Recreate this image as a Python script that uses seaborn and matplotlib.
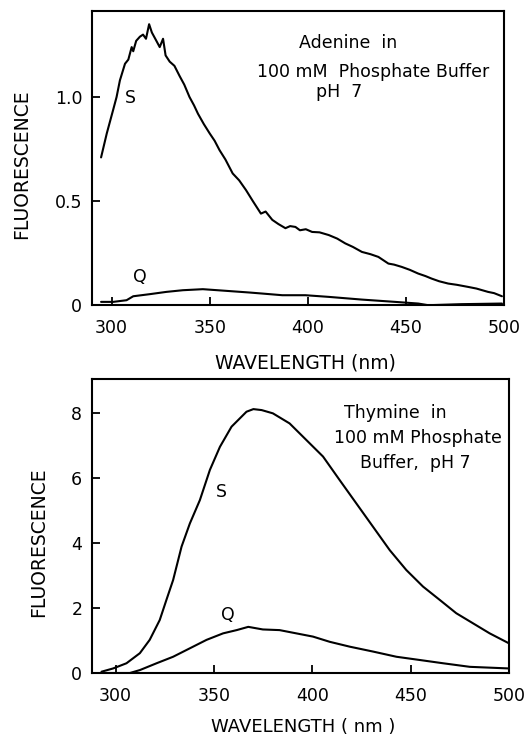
import pandas as pd
import matplotlib
matplotlib.use("Agg")
import matplotlib.pyplot as plt
import seaborn as sns

# === Datos ===
# Adenina, curva S
ade_s_wl = [294.6, 297.5, 300.8, 302.5, 304.2, 306.8, 308.5, 310.2, 311.0, 312.5, 314.4, 316.0,
            317.5, 319.1, 320.5, 322.8, 324.5, 326.2, 327.5, 329.6, 332.0, 334.7, 337.0,
            339.7, 342.0, 344.0, 347.0, 350.0, 352.5, 355.0, 358.0, 361.7, 365.0, 368.5,
            372.0, 376.1, 378.5, 381.9, 385.0, 388.6, 391.0, 393.7, 396.0, 399.0, 402.2,
            406.0, 410.7, 415.0, 419.1, 423.0, 427.6, 432.0, 436.0, 441.1, 444.0, 447.9,
            452.0, 456.3, 460.0, 463.1, 467.0, 471.6, 476.0, 481.7, 486.0, 491.9, 495.0, 499.0]
ade_s_f = [0.71, 0.825, 0.94, 1.00, 1.08, 1.16, 1.18, 1.24, 1.22, 1.27, 1.29, 1.30,
           1.28, 1.35, 1.31, 1.27, 1.24, 1.28, 1.20, 1.17, 1.15, 1.10, 1.06,
           1.00, 0.96, 0.92, 0.87, 0.825, 0.79, 0.745, 0.70, 0.633, 0.60, 0.553,
           0.50, 0.44, 0.45, 0.41, 0.39, 0.37, 0.38, 0.376, 0.36, 0.365, 0.352,
           0.35, 0.337, 0.32, 0.297, 0.28, 0.256, 0.245, 0.232, 0.20, 0.195, 0.184,
           0.17, 0.152, 0.14, 0.128, 0.115, 0.104, 0.098, 0.088, 0.08, 0.064, 0.058, 0.043]

# Adenina, curva Q
ade_q_wl = [294.6, 300.8, 307.6, 311.0, 319.4, 327.9, 336.3, 346.5, 358.4, 370.2, 376.8,
            387.0, 398.8, 410.7, 427.6, 444.5, 456.3, 461.4, 478.3, 499.0]
ade_q_f = [0.016, 0.016, 0.024, 0.043, 0.053, 0.064, 0.072, 0.077, 0.069, 0.061, 0.056,
           0.048, 0.048, 0.040, 0.027, 0.016, 0.008, 0.0, 0.005, 0.008]

# Timina, curva S
thy_s_wl = [292.8, 298.7, 305.5, 312.3, 317.3, 322.4, 325.8, 329.2, 333.5, 337.7, 342.8,
            347.9, 353.0, 358.9, 366.5, 370.0, 374.2, 379.9, 388.4, 396.9, 405.4, 413.8,
            422.3, 430.8, 439.3, 447.7, 456.2, 464.7, 473.1, 481.6, 490.1, 500.0]
thy_s_f = [0.04, 0.14, 0.30, 0.61, 1.02, 1.63, 2.25, 2.86, 3.89, 4.60, 5.32,
           6.25, 6.96, 7.58, 8.04, 8.12, 8.09, 7.99, 7.68, 7.17, 6.66, 5.94,
           5.22, 4.50, 3.78, 3.17, 2.66, 2.25, 1.84, 1.53, 1.22, 0.91]

# Timina, curva Q
thy_q_wl = [293.6, 307.2, 312.3, 320.8, 329.2, 337.7, 346.2, 354.6, 361.5, 367.4, 374.8,
            383.3, 391.8, 400.3, 408.8, 419.0, 430.8, 442.7, 454.6, 466.4, 480.0, 500.0]
thy_q_f = [0.0, 0.0, 0.09, 0.30, 0.50, 0.76, 1.02, 1.22, 1.32, 1.42, 1.34,
           1.32, 1.22, 1.12, 0.96, 0.81, 0.66, 0.50, 0.40, 0.30, 0.19, 0.14]

df_ade_s = pd.DataFrame({"wl": ade_s_wl, "f": ade_s_f})
df_ade_q = pd.DataFrame({"wl": ade_q_wl, "f": ade_q_f})
df_thy_s = pd.DataFrame({"wl": thy_s_wl, "f": thy_s_f})
df_thy_q = pd.DataFrame({"wl": thy_q_wl, "f": thy_q_f})

sns.set_style("ticks")
plt.rcParams['font.family'] = ['DejaVu Sans']
plt.rcParams['text.color'] = "black"
plt.rcParams['axes.labelcolor'] = "black"
plt.rcParams['xtick.color'] = "black"
plt.rcParams['ytick.color'] = "black"
fs = 12.5

fig = plt.figure(figsize=(5.26, 7.39), dpi=100)
ax1 = fig.add_axes([0.175, 0.587, 0.783, 0.398])
ax2 = fig.add_axes([0.175, 0.0893, 0.793, 0.398])

# === Panel superior: adenina ===
sns.lineplot(data=df_ade_s, x="wl", y="f", ax=ax1, color="black", lw=1.5)
sns.lineplot(data=df_ade_q, x="wl", y="f", ax=ax1, color="black", lw=1.5)
ax1.set_xlim(290, 500)
ax1.set_ylim(0, 1.413)
ax1.set_xticks([300, 350, 400, 450, 500])
ax1.set_yticks([0, 0.5, 1.0])
ax1.set_yticklabels(["0", "0.5", "1.0"])
ax1.text(0.621, 0.891, "Adenine  in", transform=ax1.transAxes, ha="center", va="center", fontsize=fs)
ax1.text(0.682, 0.793, "100 mM  Phosphate Buffer", transform=ax1.transAxes, ha="center", va="center", fontsize=fs)
ax1.text(0.600, 0.724, "pH  7", transform=ax1.transAxes, ha="center", va="center", fontsize=fs)
ax1.text(309.3, 0.995, "S", ha="center", va="center", fontsize=fs)
ax1.text(314.4, 0.135, "Q", ha="center", va="center", fontsize=fs)
ax1.set_xlabel("WAVELENGTH (nm)", fontsize=13.5)
ax1.set_ylabel("FLUORESCENCE", fontsize=13.5)
ax1.xaxis.set_label_coords(0.517, -0.163)
ax1.yaxis.set_label_coords(-0.148, 0.48)

# === Panel inferior: timina ===
sns.lineplot(data=df_thy_s, x="wl", y="f", ax=ax2, color="black", lw=1.5)
sns.lineplot(data=df_thy_q, x="wl", y="f", ax=ax2, color="black", lw=1.5)
ax2.set_xlim(288, 500)
ax2.set_ylim(0, 9.05)
ax2.set_xticks([300, 350, 400, 450, 500])
ax2.set_yticks([0, 2, 4, 6, 8])
ax2.text(0.728, 0.884, "Thymine  in", transform=ax2.transAxes, ha="center", va="center", fontsize=fs)
ax2.text(0.782, 0.799, "100 mM Phosphate", transform=ax2.transAxes, ha="center", va="center", fontsize=fs)
ax2.text(0.776, 0.714, "Buffer,  pH 7", transform=ax2.transAxes, ha="center", va="center", fontsize=fs)
ax2.text(353.5, 5.57, "S", ha="center", va="center", fontsize=fs)
ax2.text(357.1, 1.78, "Q", ha="center", va="center", fontsize=fs)
ax2.set_xlabel("WAVELENGTH ( nm )", fontsize=13)
ax2.set_ylabel("FLUORESCENCE", fontsize=13.5)
ax2.xaxis.set_label_coords(0.506, -0.152)
ax2.yaxis.set_label_coords(-0.106, 0.445)

for ax in (ax1, ax2):
    for s in ax.spines.values():
        s.set_visible(True)
        s.set_linewidth(1.5)
        s.set_color("black")
    ax.tick_params(direction="in", length=6, width=1.3, labelsize=fs, pad=10, colors="black")
    ax.tick_params(axis="y", pad=7)

plt.savefig("out.png", dpi=100)
plt.close()
